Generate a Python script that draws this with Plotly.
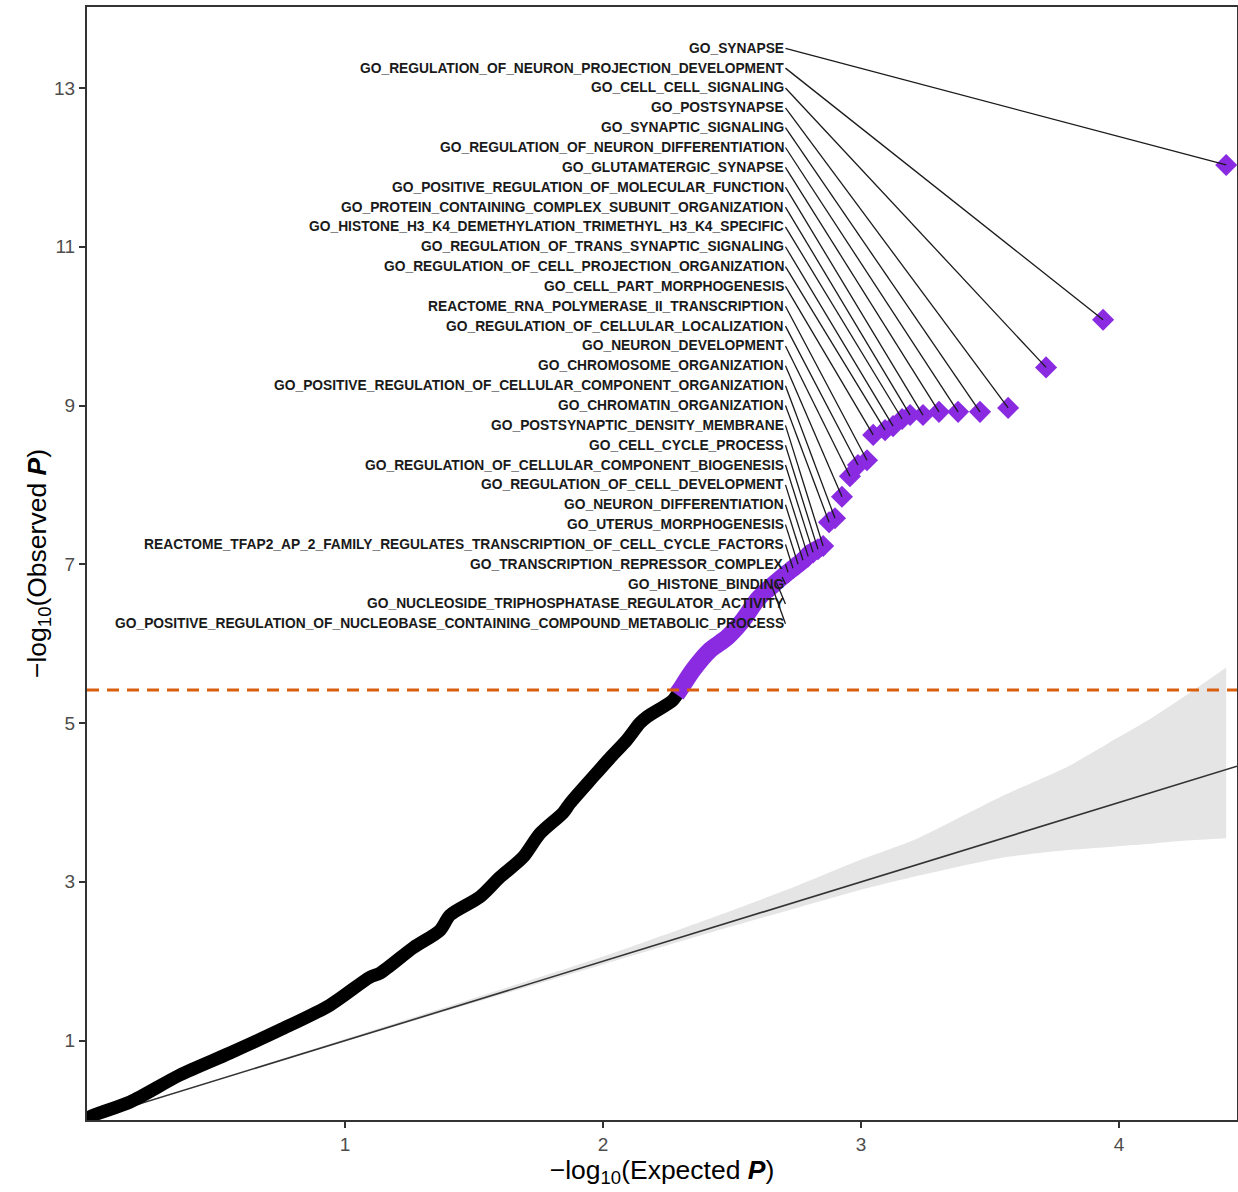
import plotly.graph_objects as go

# ---------------- data ----------------
# non-significant observed vs expected (-log10 P), black points
black_expected = [0, 0.012, 0.167, 0.36, 0.554, 0.748, 0.942, 1.097, 1.136, 1.264, 1.368, 1.407,
                  1.523, 1.601, 1.69, 1.756, 1.845, 1.872, 1.961, 2.027, 2.093, 2.143, 2.171, 2.271, 2.298]
black_observed = [0, 0.04, 0.227, 0.567, 0.844, 1.134, 1.448, 1.80, 1.851, 2.17, 2.39, 2.58,
                  2.81, 3.06, 3.31, 3.61, 3.87, 3.99, 4.32, 4.56, 4.79, 5.00, 5.08, 5.29, 5.42]

# significant (purple) band below the labelled gene sets
sig_expected = [2.285, 2.298, 2.349, 2.415, 2.481, 2.543, 2.597, 2.647, 2.713, 2.775, 2.802, 2.849]
sig_observed = [5.36, 5.42, 5.67, 5.92, 6.08, 6.30, 6.55, 6.71, 6.89, 7.05, 7.14, 7.22]

# labelled top gene sets
top_labels = [
    "GO_SYNAPSE",
    "GO_REGULATION_OF_NEURON_PROJECTION_DEVELOPMENT",
    "GO_CELL_CELL_SIGNALING",
    "GO_POSTSYNAPSE",
    "GO_SYNAPTIC_SIGNALING",
    "GO_REGULATION_OF_NEURON_DIFFERENTIATION",
    "GO_GLUTAMATERGIC_SYNAPSE",
    "GO_POSITIVE_REGULATION_OF_MOLECULAR_FUNCTION",
    "GO_PROTEIN_CONTAINING_COMPLEX_SUBUNIT_ORGANIZATION",
    "GO_HISTONE_H3_K4_DEMETHYLATION_TRIMETHYL_H3_K4_SPECIFIC",
    "GO_REGULATION_OF_TRANS_SYNAPTIC_SIGNALING",
    "GO_REGULATION_OF_CELL_PROJECTION_ORGANIZATION",
    "GO_CELL_PART_MORPHOGENESIS",
    "REACTOME_RNA_POLYMERASE_II_TRANSCRIPTION",
    "GO_REGULATION_OF_CELLULAR_LOCALIZATION",
    "GO_NEURON_DEVELOPMENT",
    "GO_CHROMOSOME_ORGANIZATION",
    "GO_POSITIVE_REGULATION_OF_CELLULAR_COMPONENT_ORGANIZATION",
    "GO_CHROMATIN_ORGANIZATION",
    "GO_POSTSYNAPTIC_DENSITY_MEMBRANE",
    "GO_CELL_CYCLE_PROCESS",
    "GO_REGULATION_OF_CELLULAR_COMPONENT_BIOGENESIS",
    "GO_REGULATION_OF_CELL_DEVELOPMENT",
    "GO_NEURON_DIFFERENTIATION",
    "GO_UTERUS_MORPHOGENESIS",
    "REACTOME_TFAP2_AP_2_FAMILY_REGULATES_TRANSCRIPTION_OF_CELL_CYCLE_FACTORS",
    "GO_TRANSCRIPTION_REPRESSOR_COMPLEX",
    "GO_HISTONE_BINDING",
    "GO_NUCLEOSIDE_TRIPHOSPHATASE_REGULATOR_ACTIVITY",
    "GO_POSITIVE_REGULATION_OF_NUCLEOBASE_CONTAINING_COMPOUND_METABOLIC_PROCESS",
]
top_expected = [4.415, 3.938, 3.717, 3.570, 3.461, 3.376, 3.302, 3.240, 3.190, 3.159,
                3.124, 3.093, 3.047, 3.023, 2.988, 2.957, 2.926, 2.899, 2.876, 2.853,
                2.833, 2.814, 2.795, 2.775, 2.756, 2.736, 2.717, 2.694, 2.672, 2.655]
top_observed = [12.03, 10.08, 9.48, 8.97, 8.92, 8.92, 8.92, 8.88, 8.88, 8.83,
                8.74, 8.69, 8.63, 8.31, 8.25, 8.11, 7.85, 7.58, 7.53, 7.23,
                7.19, 7.15, 7.10, 7.05, 7.00, 6.95, 6.90, 6.84, 6.77, 6.72]

# null confidence band
band_expected = [0, 1.0, 2.0, 2.5, 2.76, 3.0, 3.2, 3.54, 3.8, 3.96, 4.12, 4.26, 4.415]
band_upper = [0, 1.02, 2.06, 2.64, 2.96, 3.28, 3.52, 4.07, 4.45, 4.75, 5.05, 5.35, 5.70]
band_lower = [0, 0.99, 1.96, 2.44, 2.68, 2.90, 3.06, 3.30, 3.40, 3.44, 3.48, 3.52, 3.55]

threshold = 5.415
x_max = 4.457
y_max = 14.02

x_ticks = [1, 2, 3, 4]
y_ticks = [1, 3, 5, 7, 9, 11, 13]

# ---------------- figure ----------------
PURPLE = "#8A2BE2"
ORANGE = "#D95F0E"
FONT = "Liberation Sans, Arial, sans-serif"

fig = go.Figure()

# confidence band
fig.add_trace(go.Scatter(x=band_expected, y=band_upper, mode="lines",
                         line=dict(width=0, color="rgba(0,0,0,0)", shape="spline", smoothing=0.6),
                         hoverinfo="skip"))
fig.add_trace(go.Scatter(x=band_expected, y=band_lower, mode="lines", fill="tonexty",
                         fillcolor="#E5E5E5",
                         line=dict(width=0, color="rgba(0,0,0,0)", shape="spline", smoothing=0.6),
                         hoverinfo="skip"))
# diagonal y = x
fig.add_trace(go.Scatter(x=[0, x_max], y=[0, x_max], mode="lines",
                         line=dict(color="#333333", width=1.6), hoverinfo="skip"))

# black points
fig.add_trace(go.Scatter(x=black_expected, y=black_observed, mode="lines",
                         line=dict(color="black", width=13, shape="spline", smoothing=0.8),
                         hoverinfo="skip"))
# purple band
fig.add_trace(go.Scatter(x=sig_expected, y=sig_observed, mode="lines",
                         line=dict(color=PURPLE, width=17, shape="spline", smoothing=0.8),
                         hoverinfo="skip"))
# labelled diamonds
fig.add_trace(go.Scatter(x=top_expected, y=top_observed, mode="markers",
                         marker=dict(symbol="diamond", size=17, color=PURPLE,
                                     line=dict(width=0)), hoverinfo="skip"))

# threshold
fig.add_trace(go.Scatter(x=[0, x_max], y=[threshold, threshold], mode="lines",
                         line=dict(color=ORANGE, width=3, dash="12px,8px"), hoverinfo="skip"))

# label segments
label_x = 2.705
label_top = 13.5
label_step = 0.25
seg_x, seg_y = [], []
for i in range(len(top_labels)):
    ly = label_top - label_step * i
    seg_x += [label_x + 0.002, top_expected[i], None]
    seg_y += [ly, top_observed[i], None]
fig.add_trace(go.Scatter(x=seg_x, y=seg_y, mode="lines",
                         line=dict(color="#1a1a1a", width=1.3), hoverinfo="skip"))

annotations = []
for i, lab in enumerate(top_labels):
    annotations.append(dict(x=label_x, y=label_top - label_step * i, xref="x", yref="y",
                            text="<b>" + lab + "</b>", showarrow=False,
                            xanchor="right", yanchor="middle",
                            font=dict(family=FONT, size=13.8, color="#1a1a1a"),
                            borderpad=0))

axis_common = dict(showline=True, mirror=True, linecolor="#333333", linewidth=2,
                   ticks="outside", ticklen=6, tickwidth=2, tickcolor="#333333",
                   showgrid=False, zeroline=False,
                   tickfont=dict(family=FONT, size=19, color="#4D4D4D"))

fig.update_layout(
    width=1238, height=1192,
    margin=dict(l=87, r=1, t=7, b=72, autoexpand=False),
    paper_bgcolor="white", plot_bgcolor="white",
    showlegend=False,
    annotations=annotations,
    xaxis=dict(range=[0, x_max], tickvals=x_ticks, ticktext=[str(v) for v in x_ticks],
               title=dict(text="\u2212log<sub>10</sub>(Expected <b><i>P</i></b>)",
                          font=dict(family=FONT, size=26.5, color="black"), standoff=6),
               **axis_common),
    yaxis=dict(range=[0, y_max], tickvals=y_ticks, ticktext=[str(v) for v in y_ticks],
               title=dict(text="\u2212log<sub>10</sub>(Observed <b><i>P</i></b>)",
                          font=dict(family=FONT, size=26.5, color="black"), standoff=0),
               **axis_common),
)

fig.write_html("out.html")
